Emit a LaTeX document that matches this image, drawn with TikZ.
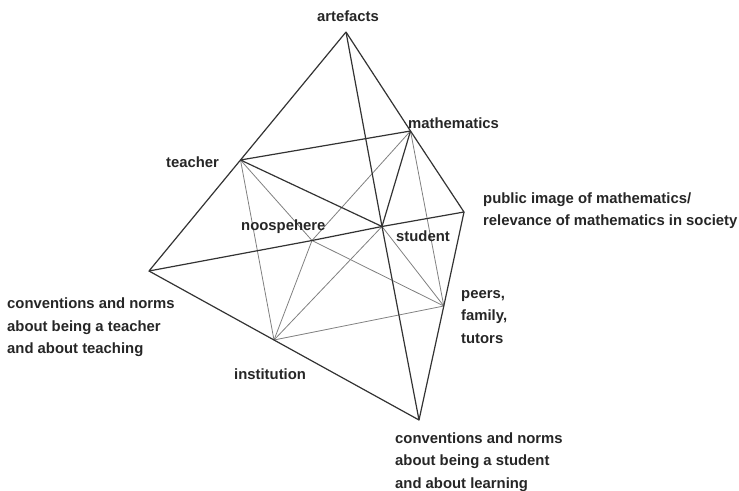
\documentclass[tikz,border=0pt]{standalone}
\usepackage{fontspec}
\setmainfont{Liberation Sans}
\begin{document}
\begin{tikzpicture}[x=1pt,y=-1pt,
	dark/.style={draw=black!80,line width=1.2pt,line join=round},
	light/.style={draw=black!50,line width=0.8pt},
	lbl/.style={inner sep=0pt,font=\fontsize{14.85}{22.5}\selectfont\bfseries,text=black!85}]
	\useasboundingbox (0,0) rectangle (739,490);
	% Define the corners
	\coordinate (art) at (346,32);
	\coordinate (pub) at (464,212);
	\coordinate (cte) at (149,271);
	\coordinate (cst) at (419,420);
	% Define the points on the edges
	\coordinate (mat) at (410.5,131);
	\coordinate (tea) at (240.5,160);
	\coordinate (stu) at (382,226.5);
	\coordinate (noo) at (312,240.5);
	\coordinate (pee) at (443.8,306);
	\coordinate (ins) at (274,340);
	% Light edges
	\foreach \a/\b in {tea/ins,tea/noo,mat/noo,mat/pee,stu/ins,stu/pee,ins/noo,ins/pee,noo/pee}
		\draw[light] (\a) -- (\b);
	% Dark edges
	\draw[dark] (art) -- (tea) -- (cte) -- (noo) -- (stu) -- (pub) -- (mat) -- (art);
	\draw[dark] (art) -- (stu) -- (cst) -- (ins) -- (cte);
	\draw[dark] (pub) -- (pee) -- (cst);
	\draw[dark] (tea) -- (mat) -- (stu) -- (tea);
	% Add labels (multi-line ones sit on their last line)
	\node[lbl,anchor=base] (artL) at (348,21) {artefacts};
	\node[lbl,anchor=base west] (matL) at (408,128) {mathematics};
	\node[lbl,anchor=base west] (teaL) at (166,167.5) {teacher};
	\node[lbl,anchor=base west] (nooL) at (241,230.5) {noospehere};
	\node[lbl,anchor=base west] (stuL) at (396,241.5) {student};
	\node[lbl,anchor=base west,align=left] (pubL) at (483,225.5) {public image of mathematics/\\relevance of mathematics in society};
	\node[lbl,anchor=base west,align=left] (cteL) at (7,353.5) {conventions and norms\\about being a teacher\\and about teaching};
	\node[lbl,anchor=base west] (insL) at (234,379) {institution};
	\node[lbl,anchor=base west,align=left] (peeL) at (461,343) {peers,\\family,\\tutors};
	\node[lbl,anchor=base west,align=left] (cstL) at (395,488) {conventions and norms\\about being a student\\and about learning};
\end{tikzpicture}
\end{document}
